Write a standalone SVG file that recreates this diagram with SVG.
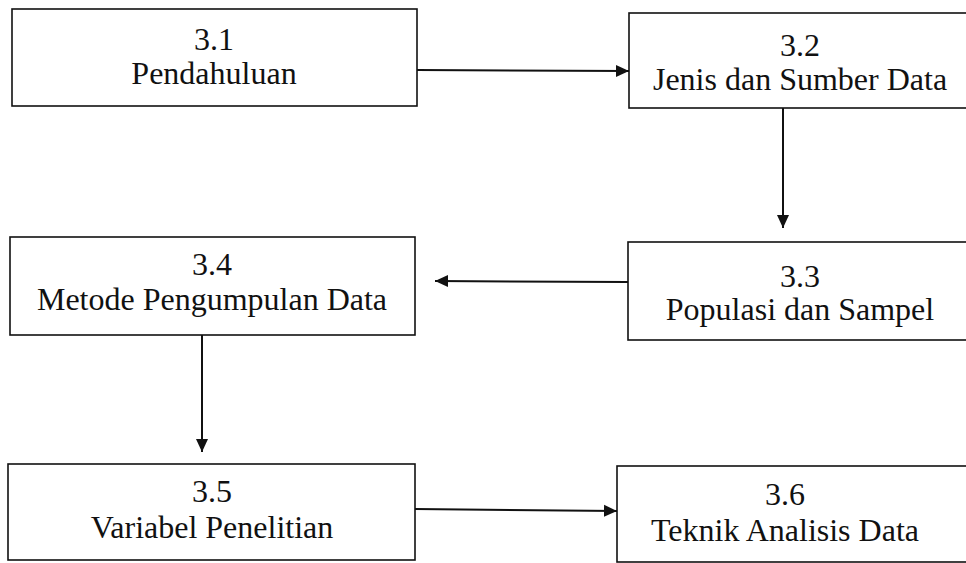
<svg xmlns="http://www.w3.org/2000/svg" width="966" height="563" viewBox="0 0 966 563">
<style>
.box{fill:#fff;stroke:#111;stroke-width:1.6}
.t{font-size:32px;fill:#111;text-anchor:middle}
.c{stroke:#111;stroke-width:2;fill:none}
</style>
<defs>
<marker id="ah" markerUnits="userSpaceOnUse" markerWidth="14" markerHeight="14" viewBox="0 0 14 14" refX="13" refY="7" orient="auto">
<path d="M0,1 L13,7 L0,13 Z" fill="#111"/>
</marker>
</defs>
<rect width="966" height="563" fill="#fff"/>
<g font-family="Liberation Serif, Times New Roman, serif">
<g id="n31"><rect class="box" x="12" y="9" width="405" height="97"/><text class="t" x="214" y="50">3.1</text><text class="t" x="214" y="84">Pendahuluan</text></g>
<g id="n32"><rect class="box" x="629" y="13" width="360" height="95"/><text class="t" x="800" y="56">3.2</text><text class="t" x="800" y="90">Jenis dan Sumber Data</text></g>
<g id="n33"><rect class="box" x="628" y="242" width="360" height="98"/><text class="t" x="800" y="287">3.3</text><text class="t" x="800" y="320">Populasi dan Sampel</text></g>
<g id="n34"><rect class="box" x="10" y="237" width="405" height="98"/><text class="t" x="212" y="275">3.4</text><text class="t" x="212" y="310">Metode Pengumpulan Data</text></g>
<g id="n35"><rect class="box" x="8" y="464" width="407" height="96"/><text class="t" x="212" y="502">3.5</text><text class="t" x="212" y="538">Variabel Penelitian</text></g>
<g id="n36"><rect class="box" x="617" y="466" width="360" height="96"/><text class="t" x="785" y="505">3.6</text><text class="t" x="785" y="541">Teknik Analisis Data</text></g>
</g>
<g id="connectors">
<line class="c" x1="417" y1="70" x2="629" y2="71" marker-end="url(#ah)"/>
<line class="c" x1="783" y1="108" x2="783" y2="228" marker-end="url(#ah)"/>
<line class="c" x1="628" y1="282" x2="435" y2="281" marker-end="url(#ah)"/>
<line class="c" x1="202" y1="335" x2="202" y2="452" marker-end="url(#ah)"/>
<line class="c" x1="415" y1="509" x2="617" y2="511" marker-end="url(#ah)"/>
</g>
</svg>
